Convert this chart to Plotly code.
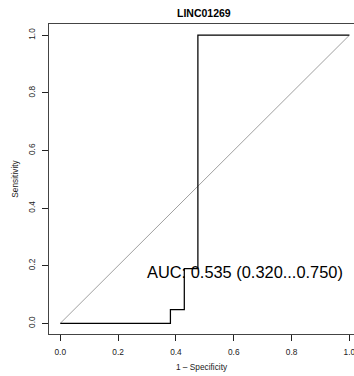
import plotly.graph_objects as go

# ROC data (x = 1 - specificity, y = sensitivity)
one_minus_spec = [0.0, 0.381, 0.429, 0.476, 1.0]
sensitivity = [0.0, 0.048, 0.190, 1.0, 1.0]
diag_x = [0.0, 1.0]
diag_y = [0.0, 1.0]
tick_vals = [0.0, 0.2, 0.4, 0.6, 0.8, 1.0]
tick_text = ["0.0", "0.2", "0.4", "0.6", "0.8", "1.0"]
title_text = "LINC01269"
auc_text = "AUC: 0.535 (0.320...0.750)"

FONT = "Liberation Sans, Arial, Helvetica, sans-serif"

fig = go.Figure()
fig.add_trace(go.Scatter(x=diag_x, y=diag_y, mode="lines",
                         line=dict(color="#a0a0a0", width=1), hoverinfo="skip"))
fig.add_trace(go.Scatter(x=one_minus_spec, y=sensitivity, mode="lines",
                         line=dict(color="black", width=1.25, shape="hv"), hoverinfo="skip"))

fig.add_annotation(x=0.638, y=0.177, xref="x", yref="y", text=auc_text,
                   showarrow=False, font=dict(family=FONT, size=16.4, color="black"),
                   xanchor="center", yanchor="middle")
fig.add_annotation(x=0.508, y=1.0, xref="paper", yref="paper", yshift=11,
                   text="<b>" + title_text + "</b>", showarrow=False,
                   font=dict(family=FONT, size=10.5, color="black"),
                   xanchor="center", yanchor="middle")

fig.update_layout(
    width=354, height=376,
    margin=dict(l=49, r=0, t=24, b=42, autoexpand=False),
    paper_bgcolor="white", plot_bgcolor="white",
    showlegend=False,
    font=dict(family=FONT, size=8.3, color="#222"),
    xaxis=dict(range=[-0.039, 1.016], tickvals=tick_vals, ticktext=tick_text,
               showgrid=False, zeroline=False, showline=True, mirror=True,
               linecolor="#444", linewidth=1, ticks="outside", ticklen=6,
               tickcolor="#222", tickwidth=1, ticklabelstandoff=4,
               ticklabeloverflow="allow", automargin=False,
               title=dict(text="1 \u2013 Specificity", standoff=8,
                          font=dict(family=FONT, size=8.3, color="#222"))),
    yaxis=dict(range=[-0.037, 1.039], tickvals=tick_vals, ticktext=tick_text,
               showgrid=False, zeroline=False, showline=True, mirror=False,
               linecolor="#444", linewidth=1, ticks="outside", ticklen=6,
               tickcolor="#222", tickwidth=1, tickangle=-90, ticklabelstandoff=4,
               ticklabeloverflow="allow", automargin=False,
               title=dict(text="Sensitivity", standoff=6,
                          font=dict(family=FONT, size=8.3, color="#222"))),
)

fig.write_html("out.html")
